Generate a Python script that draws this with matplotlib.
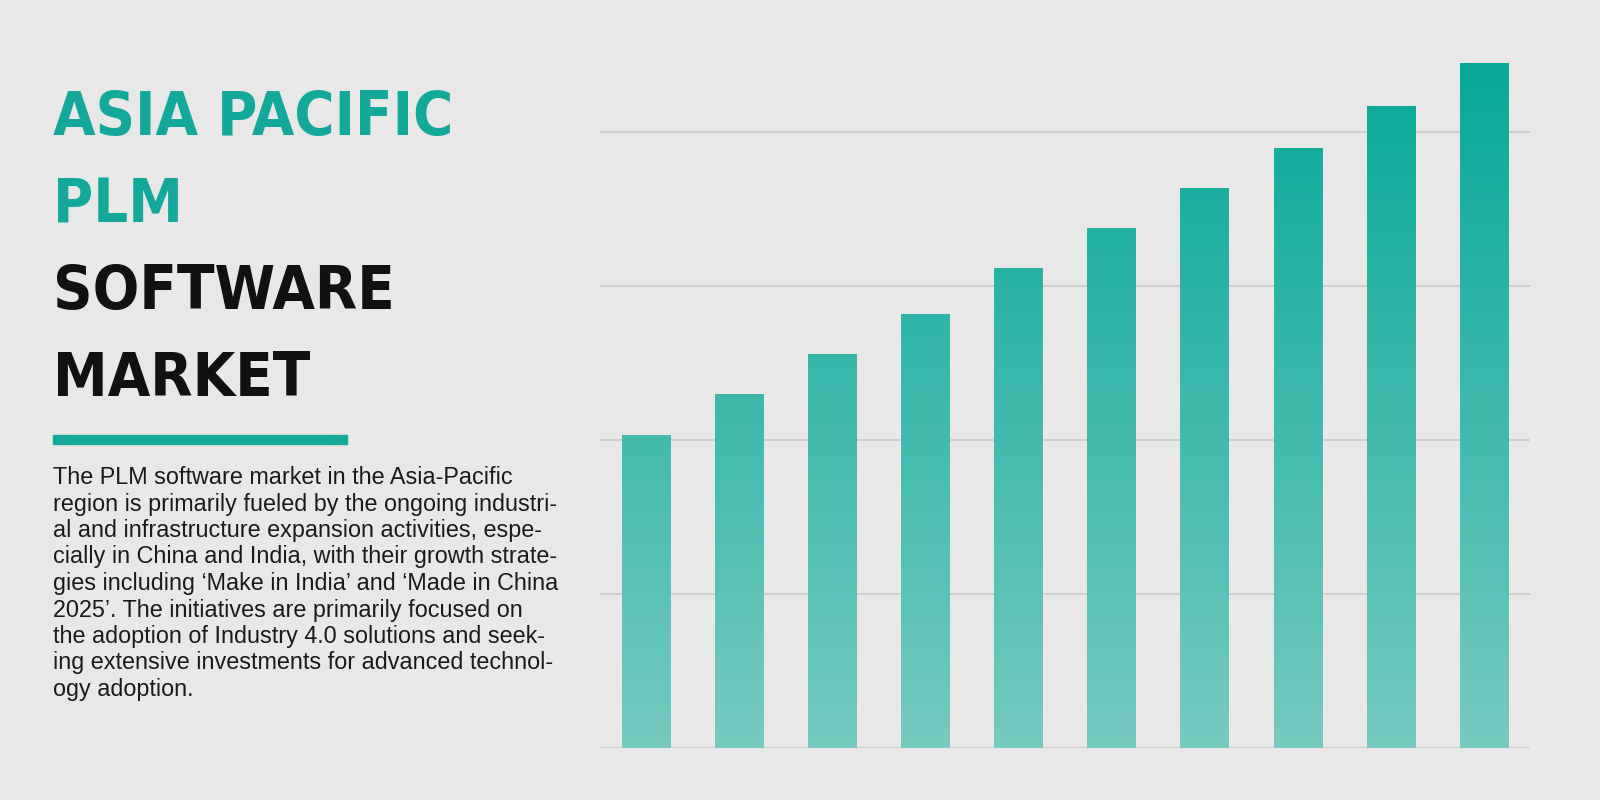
import matplotlib
matplotlib.use("Agg")
import matplotlib.pyplot as plt
import numpy as np
from matplotlib.colors import LinearSegmentedColormap

years = list(range(10))
values = [2.03, 2.30, 2.56, 2.82, 3.12, 3.38, 3.64, 3.90, 4.17, 4.45]
title_lines = ["ASIA PACIFIC", "PLM", "SOFTWARE", "MARKET"]
body_lines = [
    "The PLM software market in the Asia-Pacific",
    "region is primarily fueled by the ongoing industri-",
    "al and infrastructure expansion activities, espe-",
    "cially in China and India, with their growth strate-",
    "gies including \u2018Make in India\u2019 and \u2018Made in China",
    "2025\u2019. The initiatives are primarily focused on",
    "the adoption of Industry 4.0 solutions and seek-",
    "ing extensive investments for advanced technol-",
    "ogy adoption.",
]

bg = "#e8e8e8"
teal = "#14a89a"
fig = plt.figure(figsize=(16, 8), dpi=100, facecolor=bg)

ax = fig.add_axes([0.375, 0.065, 0.58125, 0.866], facecolor=bg)
for g in range(5):
    ax.axhline(g, color="#cfcfcf", lw=1.5, zorder=0)
cmap = LinearSegmentedColormap.from_list("g", ["#76cac0", "#05a898"])
grad = np.linspace(0, 1, 256).reshape(-1, 1)
bars = ax.bar(years, values, width=0.52, color="none", zorder=2)
for b in bars:
    im = ax.imshow(grad, cmap=cmap, extent=[-0.495, 9.495, 0, 4.5], origin="lower",
                   aspect="auto", zorder=2)
    im.set_clip_path(b)
ax.set_xlim(-0.495, 9.495)
ax.set_ylim(0, 4.5)
for s in ax.spines.values():
    s.set_visible(False)
ax.set_xticks([]); ax.set_yticks([])

ys = [135, 222, 309, 396]
for i, (t, y) in enumerate(zip(title_lines, ys)):
    fig.text(53/1600, 1 - y/800, t, fontsize=44, fontweight="bold",
             family=["DejaVu Sans"], fontstretch="condensed",
             color=teal if i < 2 else "#111111", va="baseline", ha="left")
fig.patches.append(plt.Rectangle((53/1600, 1 - 444/800), 294/1600, 9/800,
                                 transform=fig.transFigure, color=teal))
for i, line in enumerate(body_lines):
    fig.text(53/1600, 1 - (484 + i*26.5)/800, line, fontsize=16.8,
             family=["Liberation Sans", "DejaVu Sans"], color="#1a1a1a", va="baseline")

fig.savefig("out.png", dpi=100, facecolor=bg)
